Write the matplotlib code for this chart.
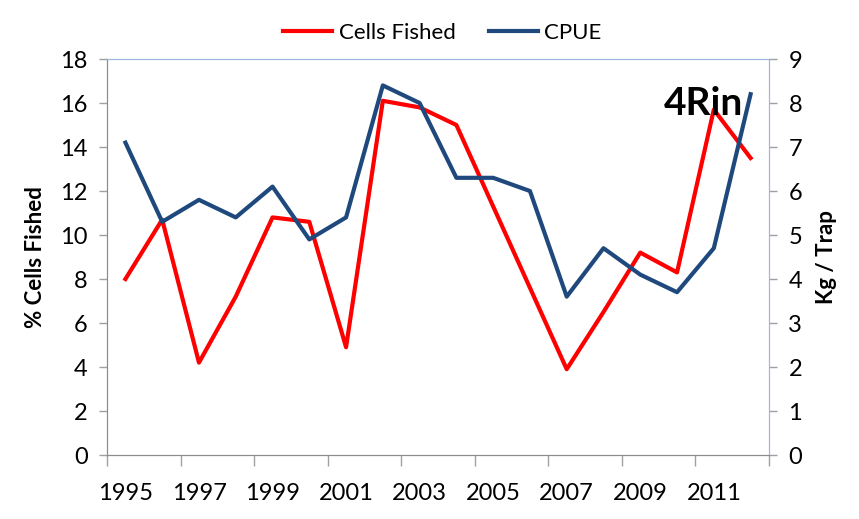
import numpy as np
import matplotlib.pyplot as plt

years = list(range(1995, 2013))
cells_fished = [8.0, 10.7, 4.2, 7.2, 10.8, 10.6, 4.9, 16.1, 15.8, 15.0,
                11.3, 7.6, 3.9, 6.5, 9.2, 8.3, 15.7, 13.5]
cpue = [7.1, 5.3, 5.8, 5.4, 6.1, 4.9, 5.4, 8.4, 8.0, 6.3,
        6.3, 6.0, 3.6, 4.7, 4.1, 3.7, 4.7, 8.2]

plt.rcParams['font.family'] = ['Lato', 'DejaVu Sans']

fig = plt.figure(figsize=(8.59, 5.19), dpi=100)
ax = fig.add_axes([0.1246, 0.1233, 0.7706, 0.763])
ax2 = ax.twinx()

x = np.arange(len(years))
l1, = ax.plot(x, cells_fished, color='#FF0000', lw=3, label='Cells Fished')
l2, = ax2.plot(x, cpue, color='#1F497D', lw=3, label='CPUE')

ax.set_xlim(-0.5, len(years) - 0.5)
ax.set_ylim(0, 18)
ax.set_yticks(range(0, 19, 2))
ax2.set_ylim(0, 9)
ax2.set_yticks(range(0, 10))

# tick marks sit between categories, labels on every other year
ax.set_xticks(np.arange(-0.5, len(years), 2))
ax.set_xticklabels([])
ax.set_xticks(x[::2], minor=True)
ax.set_xticklabels([str(y) for y in years[::2]], minor=True)
ax.tick_params(axis='x', which='major', length=8, width=1, color='#A0A0A0', direction='out')
ax.tick_params(axis='x', which='minor', length=0, pad=20, labelsize=17)
ax.tick_params(axis='y', length=6, width=1, color='#A0A0A0', labelsize=17, pad=8)
ax2.tick_params(axis='y', length=6, width=1, color='#A0A0A0', labelsize=17, pad=8)

for a in (ax, ax2):
    a.spines['left'].set_color('#8C8C8C')
    a.spines['bottom'].set_color('#8C8C8C')
    a.spines['top'].set_color('#9DB6DC')
    a.spines['right'].set_color('#A6B6D0')

ax.set_ylabel('% Cells Fished', fontsize=16, fontweight='bold', labelpad=10)
ax2.set_ylabel('Kg / Trap', fontsize=16, fontweight='bold', labelpad=10)

ax2.text(0.961, 0.859, '4Rin', transform=ax.transAxes, ha='right', va='baseline',
         fontsize=28, fontweight='bold', color='black')

fig.legend(handles=[l1, l2], loc='upper center', bbox_to_anchor=(0.515, 0.995),
           ncol=2, frameon=False, fontsize=16, handlelength=2.2,
           handletextpad=0.3, columnspacing=1.5)

fig.savefig('out.png', dpi=100)
